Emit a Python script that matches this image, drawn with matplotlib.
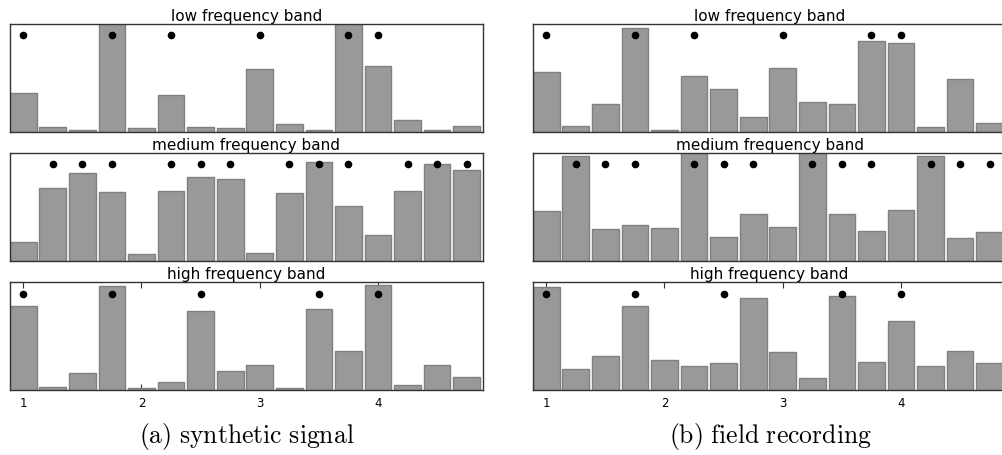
import numpy as np
import matplotlib
matplotlib.use("Agg")
import matplotlib.pyplot as plt

plt.rcParams['mathtext.fontset'] = 'cm'

# bar positions (16 bins) and tick positions
positions = [1.0 + 0.25 * i for i in range(16)]
xtick_vals = [1, 2, 3, 4]
band_titles = ["low frequency band", "medium frequency band", "high frequency band"]
captions = [r"$\mathrm{(a)\ synthetic\ signal}$", r"$\mathrm{(b)\ field\ recording}$"]

# (a) synthetic signal, normalised heights (values > 1 are clipped by the axes)
syn_low = [0.36, 0.05, 0.015, 1.05, 0.037, 0.34, 0.05, 0.037,
           0.585, 0.07, 0.015, 1.05, 0.615, 0.114, 0.02, 0.058]
syn_mid = [0.18, 0.676, 0.815, 0.64, 0.068, 0.65, 0.775, 0.76,
           0.077, 0.633, 0.914, 0.506, 0.238, 0.65, 0.90, 0.846]
syn_high = [0.777, 0.034, 0.161, 0.969, 0.025, 0.077, 0.734, 0.183,
            0.232, 0.025, 0.755, 0.365, 0.975, 0.05, 0.232, 0.124]

# (b) field recording
rec_low = [0.56, 0.058, 0.255, 0.966, 0.015, 0.517, 0.397, 0.14,
           0.594, 0.277, 0.255, 0.846, 0.828, 0.046, 0.495, 0.08]
rec_mid = [0.463, 0.969, 0.293, 0.336, 0.306, 1.05, 0.222, 0.435,
           0.315, 1.05, 0.435, 0.278, 0.469, 0.969, 0.213, 0.265]
rec_high = [0.96, 0.20, 0.322, 0.777, 0.282, 0.223, 0.254, 0.854,
            0.353, 0.118, 0.87, 0.266, 0.641, 0.223, 0.365, 0.257]

# onset markers (same for both signals)
dots_low = [1.0, 1.75, 2.25, 3.0, 3.75, 4.0]
dots_mid = [1.25, 1.5, 1.75, 2.25, 2.5, 2.75, 3.25, 3.5, 3.75, 4.25, 4.5, 4.75]
dots_high = [1.0, 1.75, 2.5, 3.5, 4.0]
dot_level = 0.895

columns = [[syn_low, syn_mid, syn_high], [rec_low, rec_mid, rec_high]]
dots = [dots_low, dots_mid, dots_high]

fig = plt.figure(figsize=(10.02, 4.56), dpi=100)

lefts = [10 / 1002, 533 / 1002]
width = 473 / 1002
bottoms = [1 - 133 / 456, 1 - 262 / 456, 1 - 391.3 / 456]
height = 108 / 456

for c, col in enumerate(columns):
    for r, heights in enumerate(col):
        ax = fig.add_axes([lefts[c], bottoms[r], width, height])
        ax.bar(positions, heights, width=0.226, color='#999999',
               edgecolor='#808080', linewidth=1.0, zorder=2)
        ax.plot(dots[r], [dot_level] * len(dots[r]), 'o', color='black',
                markersize=4.5, zorder=3)
        ax.set_xlim(0.888, 4.888)
        ax.set_ylim(0, 1)
        ax.set_yticks([])
        ax.set_title(band_titles[r], fontsize=11, pad=3)
        for sp in ax.spines.values():
            sp.set_color('#333333')
            sp.set_linewidth(1.0)
        if r == 2:
            ax.set_xticks(xtick_vals)
            ax.tick_params(axis='x', direction='in', top=True, length=4,
                           labelsize=8.5, pad=4, color='#333333')
        else:
            ax.set_xticks([])

fig.text(246.5 / 1002, 1 - 437 / 456, captions[0], fontsize=18.5, ha='center', va='center')
fig.text(770 / 1002, 1 - 437 / 456, captions[1], fontsize=18.5, ha='center', va='center')

fig.savefig("out.png", dpi=100)
